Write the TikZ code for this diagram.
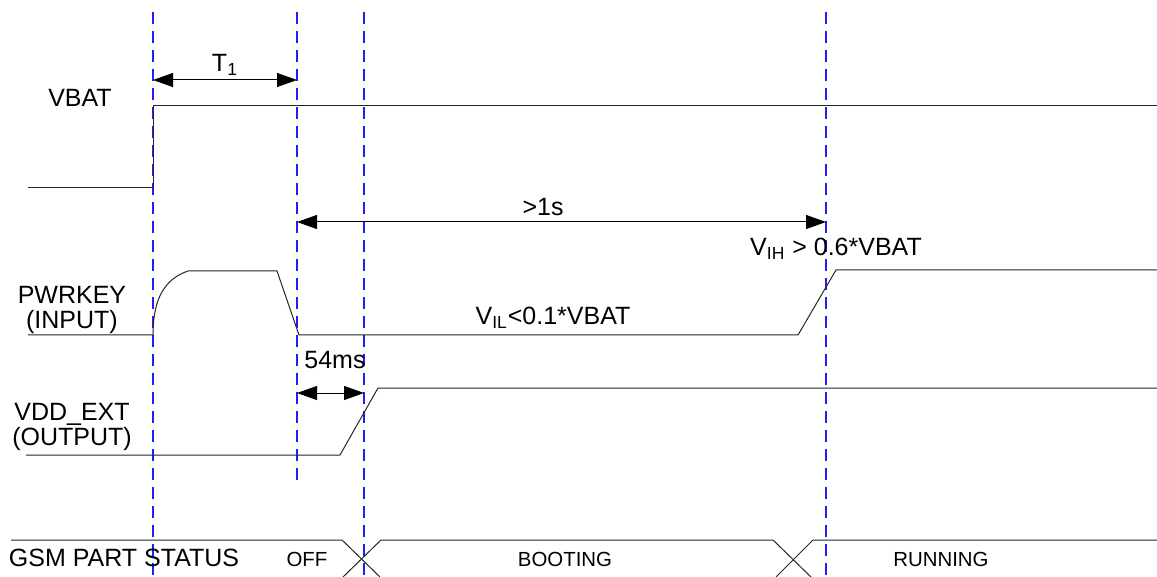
\documentclass[tikz,border=0pt]{standalone}
\usepackage{fontspec}
\setmainfont{Liberation Sans}
\usetikzlibrary{arrows.meta,positioning}
\definecolor{markblue}{RGB}{30,30,255}

\begin{document}
\begin{tikzpicture}[
    x=0.5pt, y=-0.5pt,
    font=\fontsize{12.5}{12.5}\selectfont,
    wave/.style={draw=black!85, line width=0.5pt},
    marker/.style={draw=markblue, color=markblue, line width=0.6pt, dash pattern=on 6pt off 3.5pt},
    span/.style={line width=0.5pt,
      {Triangle[length=10pt,width=7pt]}-{Triangle[length=10pt,width=7pt]}},
    sig/.style={align=center, inner sep=0pt},
    lbl/.style={inner sep=0pt},
    status/.style={inner sep=0pt, font=\fontsize{10.2}{12}\selectfont}
  ]
\useasboundingbox (0,0) rectangle (1157,577);

% --- Dashed time markers ---
\coordinate (mA-top) at (153,12); \coordinate (mA-bot) at (153,577);
\coordinate (mB-top) at (297,12); \coordinate (mB-bot) at (297,483);
\coordinate (mC-top) at (364,12); \coordinate (mC-bot) at (364,577);
\coordinate (mD-top) at (826,12); \coordinate (mD-bot) at (826,577);
\draw[marker] (mD-top) -- (mD-bot);
\draw[marker] (mC-top) -- (mC-bot);
\draw[marker] (mB-top) -- (mB-bot);
\draw[marker] (mA-top) -- (mA-bot);

% --- Signal names ---
\node[sig] (vbat)   at (80,98)  {VBAT};
\node[sig] (pwrkey) at (72,310) {PWRKEY\\(INPUT)};
\node[sig] (vddext) at (72,427) {VDD\_EXT\\(OUTPUT)};
\node[lbl] (gsm)    at (124,558) {GSM PART STATUS};

% --- Waveforms ---
\draw[wave] (28,188) -- (153,188) -- (153,106) -- (1157,106);
\draw[wave] (28,335) -- (153,335) .. controls (153,298) and (165,279) .. (188,271)
  -- (277,271) -- (299,335) -- (798,335) -- (836,270) -- (1157,270);
\draw[wave] (26,455) -- (340,455) -- (378,388) -- (1157,388);

% --- Status bus ---
\draw[wave] (11,540) -- (342,540) -- (380,577);
\draw[wave] (343,577) -- (381,540) -- (773,540) -- (811,577);
\draw[wave] (776,577) -- (813,540) -- (1157,540);
\node[status] (off)     at (307,559) {OFF};
\node[status] (booting) at (565,559) {BOOTING};
\node[status] (running) at (941,559) {RUNNING};

% --- Timing spans ---
\coordinate (t1L) at (153,80);  \coordinate (t1R) at (297,80);
\coordinate (dL)  at (297,222); \coordinate (dR)  at (826,222);
\coordinate (eL)  at (297,393); \coordinate (eR)  at (364,393);
\draw[span] (t1L) -- (t1R);
\draw[span] (dL) -- (dR);
\draw[span] (eL) -- (eR);
\node[lbl] (t1)     at (225,65)  {T\textsubscript{1}};
\node[lbl] (onesec) at (543,207) {>1s};
\node[lbl] (delay)  at (335,360) {54ms};

% --- Thresholds ---
\node[lbl] (vil) at (553,318) {V\textsubscript{IL}<0.1*VBAT};
\node[lbl] (vih) at (836,249) {V\textsubscript{IH} > 0.6*VBAT};

\end{tikzpicture}
\end{document}
